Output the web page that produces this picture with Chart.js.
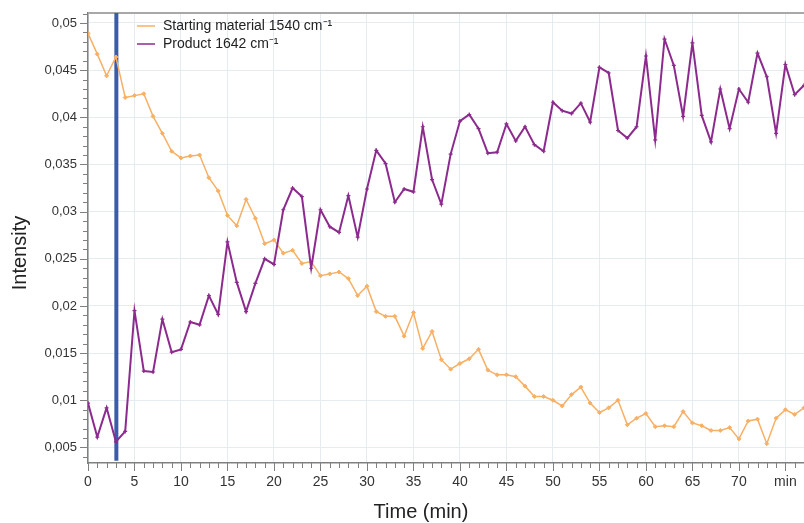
<!DOCTYPE html>
<html>
<head>
<meta charset="utf-8">
<script src="https://cdn.jsdelivr.net/npm/chart.js@4.4.0/dist/chart.umd.min.js"></script>
<style>
  html, body { margin: 0; padding: 0; background: #fff; }
  canvas { display: block; }
</style>
</head>
<body>
<canvas id="chart" width="804" height="523"></canvas>
<script>
// time in minutes
const times = [0, 1, 2, 3, 4, 5, 6, 7, 8, 9, 10, 11, 12, 13, 14, 15, 16, 17, 18, 19,
  20, 21, 22, 23, 24, 25, 26, 27, 28, 29, 30, 31, 32, 33, 34, 35, 36, 37, 38, 39,
  40, 41, 42, 43, 44, 45, 46, 47, 48, 49, 50, 51, 52, 53, 54, 55, 56, 57, 58, 59,
  60, 61, 62, 63, 64, 65, 66, 67, 68, 69, 70, 71, 72, 73, 74, 75, 76, 77];

const startingMaterial = [0.0489, 0.0467, 0.0444, 0.0464, 0.0421, 0.0423, 0.0425, 0.0401, 0.0383, 0.0364,
  0.0357, 0.0359, 0.0360, 0.0336, 0.0322, 0.0296, 0.0285, 0.0313, 0.0293, 0.0266,
  0.0270, 0.0256, 0.0259, 0.0245, 0.0247, 0.0232, 0.0234, 0.0236, 0.0229, 0.0211,
  0.0221, 0.0194, 0.0189, 0.0189, 0.0168, 0.0193, 0.0155, 0.0173, 0.0143, 0.0133,
  0.0139, 0.0144, 0.0154, 0.0132, 0.0127, 0.0127, 0.0125, 0.0115, 0.0104, 0.0104,
  0.0100, 0.0094, 0.0106, 0.0114, 0.0097, 0.0087, 0.0092, 0.0100, 0.0074, 0.0081,
  0.0086, 0.0072, 0.0073, 0.0072, 0.0088, 0.0076, 0.0073, 0.0068, 0.0068, 0.0071,
  0.0059, 0.0078, 0.0080, 0.0054, 0.0081, 0.0090, 0.0085, 0.0092];

const product = [0.0097, 0.0061, 0.0092, 0.0056, 0.0067, 0.0195, 0.0131, 0.0130, 0.0186, 0.0151,
  0.0154, 0.0183, 0.0180, 0.0211, 0.0191, 0.0268, 0.0225, 0.0194, 0.0224, 0.0250,
  0.0244, 0.0302, 0.0325, 0.0316, 0.0240, 0.0302, 0.0284, 0.0278, 0.0317, 0.0273,
  0.0324, 0.0365, 0.0351, 0.0310, 0.0324, 0.0321, 0.0390, 0.0334, 0.0308, 0.0361,
  0.0396, 0.0403, 0.0388, 0.0362, 0.0363, 0.0393, 0.0375, 0.0390, 0.0371, 0.0364,
  0.0416, 0.0407, 0.0404, 0.0415, 0.0395, 0.0453, 0.0447, 0.0386, 0.0378, 0.0390,
  0.0465, 0.0376, 0.0483, 0.0455, 0.0401, 0.0479, 0.0402, 0.0374, 0.0430, 0.0388,
  0.0430, 0.0416, 0.0468, 0.0443, 0.0383, 0.0456, 0.0424, 0.0434];

const seriesLabels = ["Starting material 1540 cm\u207B\u00B9", "Product 1642 cm\u207B\u00B9"];
const xTickValues = [0, 5, 10, 15, 20, 25, 30, 35, 40, 45, 50, 55, 60, 65, 70, 75];
const yTickValues = [0.005, 0.01, 0.015, 0.02, 0.025, 0.03, 0.035, 0.04, 0.045, 0.05];
const markerTime = 3.05; // vertical marker line

const FONT = '"Liberation Sans", Arial, sans-serif';
const ORANGE = "#f7b064";
const PURPLE = "#8c2a8e";
const BLUE = "#3b5ca9";

const toPoints = (ys) => ys.map((v, i) => ({ x: times[i], y: v }));

// minor ticks, axis titles, top frame and legend
const decor = {
  id: "decor",
  beforeDatasetsDraw(chart) {
    const { ctx, chartArea: a } = chart;
    ctx.save();
    ctx.strokeStyle = "#a8a8a8";
    ctx.lineWidth = 2;
    ctx.beginPath();
    ctx.moveTo(a.left, a.top);
    ctx.lineTo(a.right, a.top);
    ctx.stroke();
    ctx.restore();
  },
  afterDraw(chart) {
    const { ctx, chartArea: a, scales } = chart;
    const x = scales.x, y = scales.y;
    ctx.save();
    ctx.strokeStyle = "#808080";
    ctx.lineWidth = 1;
    ctx.beginPath();
    for (let t = 0; t <= 77; t++) {
      const px = Math.round(x.getPixelForValue(t)) + 0.5;
      const len = t % 5 === 0 ? 8 : 5;
      ctx.moveTo(px, a.bottom);
      ctx.lineTo(px, a.bottom + len);
    }
    for (let i = 4; i <= 51; i++) {
      const py = Math.round(y.getPixelForValue(i / 1000)) + 0.5;
      const len = i % 5 === 0 ? 8 : 5;
      ctx.moveTo(a.left - len, py);
      ctx.lineTo(a.left, py);
    }
    ctx.stroke();

    // axis titles
    ctx.fillStyle = "#222";
    ctx.font = "20px " + FONT;
    ctx.textAlign = "center";
    ctx.textBaseline = "middle";
    ctx.fillText("Time (min)", 421, 512);
    ctx.translate(20, 253);
    ctx.rotate(-Math.PI / 2);
    ctx.fillText("Intensity", 0, 0);
    ctx.setTransform(1, 0, 0, 1, 0, 0);

    // legend
    ctx.font = "14px " + FONT;
    ctx.textAlign = "left";
    chart.data.datasets.slice(0, 2).forEach((ds, i) => {
      const ly = 26 + i * 18;
      ctx.strokeStyle = ds.borderColor;
      ctx.lineWidth = 1.5;
      ctx.beginPath();
      ctx.moveTo(137, ly);
      ctx.lineTo(155, ly);
      ctx.stroke();
      ctx.fillStyle = "#222";
      ctx.fillText(ds.label, 163, ly);
    });
    ctx.restore();
  }
};

new Chart(document.getElementById("chart"), {
  type: "line",
  data: {
    datasets: [
      {
        label: seriesLabels[0],
        data: toPoints(startingMaterial),
        borderColor: ORANGE,
        backgroundColor: ORANGE,
        borderWidth: 1.5,
        pointStyle: "rectRot",
        pointRadius: 2,
        pointBorderWidth: 1,
        order: 2
      },
      {
        label: seriesLabels[1],
        data: toPoints(product),
        borderColor: PURPLE,
        backgroundColor: PURPLE,
        borderWidth: 2,
        pointStyle: "cross",
        pointRadius: 2,
        pointBorderWidth: 1.2,
        order: 1
      },
      {
        label: "marker",
        data: [{ x: markerTime, y: 0.0515 }, { x: markerTime, y: 0.0036 }],
        borderColor: BLUE,
        borderWidth: 4,
        pointRadius: 0,
        order: 3
      }
    ]
  },
  options: {
    responsive: false,
    animation: false,
    devicePixelRatio: 1,
    layout: { autoPadding: false, padding: { top: 13, right: 0, bottom: 0, left: 0 } },
    plugins: {
      legend: { display: false },
      tooltip: { enabled: false }
    },
    scales: {
      x: {
        type: "linear",
        min: 0,
        max: 77,
        afterBuildTicks: (s) => { s.ticks = xTickValues.map((v) => ({ value: v })); },
        afterFit: (s) => { s.height = 60; s.paddingRight = 0; s.paddingLeft = 0; },
        grid: { color: "#e4ecef", drawTicks: false },
        border: { color: "#808080", width: 1.5 },
        ticks: {
          padding: 11,
          autoSkip: false,
          maxRotation: 0,
          color: "#333",
          font: { size: 14, family: FONT },
          callback: (v) => (v === 75 ? "min" : String(v))
        }
      },
      y: {
        min: 0.00335,
        max: 0.05106,
        afterBuildTicks: (s) => { s.ticks = yTickValues.map((v) => ({ value: v })); },
        afterFit: (s) => { s.width = 88; s.paddingTop = 0; s.paddingBottom = 0; },
        grid: { color: "#e4ecef", drawTicks: false },
        border: { color: "#808080", width: 1.5 },
        ticks: {
          padding: 11,
          color: "#333",
          font: { size: 13, family: FONT },
          callback: (v) => String(Math.round(v * 1000) / 1000).replace(".", ",")
        }
      }
    }
  },
  plugins: [decor]
});
</script>
</body>
</html>
